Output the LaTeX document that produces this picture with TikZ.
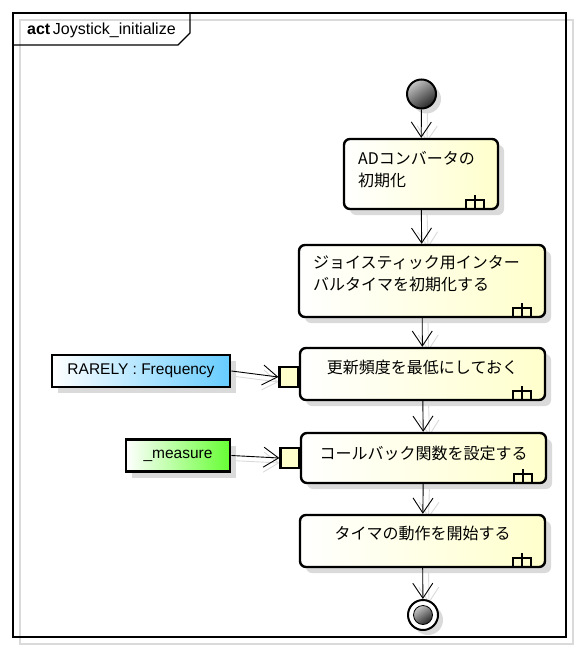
\documentclass[tikz,border=0pt]{standalone}
\usepackage{fontspec}
\setmainfont{Liberation Sans}
\newfontfamily\jpfont{Noto Sans CJK JP}
\usetikzlibrary{arrows.meta,shadows,backgrounds,positioning}

\definecolor{actyellow}{RGB}{255,255,204}
\definecolor{objblue}{RGB}{102,204,255}
\definecolor{objgreen}{RGB}{102,255,51}
\definecolor{shadowgray}{RGB}{218,218,218}

\tikzset{
  boxshadow/.style={drop shadow={shadow xshift=6pt,shadow yshift=-6pt,fill=shadowgray,opacity=1}},
  action/.style={draw,line width=2.4pt,rounded corners=6pt,left color=white,right color=actyellow,
    inner sep=0pt,boxshadow},
  acttext/.style={font=\jpfont\fontsize{16}{22}\selectfont,align=left,inner sep=0pt},
  objnode/.style={draw,line width=2.8pt,minimum height=32pt,inner sep=0pt,left color=white,
    font=\fontsize{15.5}{18}\selectfont,boxshadow},
  pinbox/.style={draw,line width=2.4pt,fill=actyellow,minimum width=19pt,minimum height=20pt,inner sep=0pt},
  flow/.style={line width=0.9pt,-{Straight Barb[length=15pt,width=20pt,line width=0.9pt]}},
  flowshadow/.style={flow,shadowgray},
  rakeicon/.pic={\draw[line width=2.3pt] (-9,8) -- (-9,0) -- (9,0) -- (9,8) (0,8) -- (0,-5);}
}

\begin{document}
\begin{tikzpicture}[x=1pt,y=-1pt]
\useasboundingbox (0,0) rectangle (580,650);

% frame
\draw[line width=1.3pt] (13,13) rectangle (566,637);
\draw[line width=1.3pt] (13,45) -- (178,45) -- (190,33) -- (190,13);
\node[anchor=west,inner sep=0pt,font=\fontsize{16}{18}\selectfont] (title) at (27,30)
  {\textbf{act}\,Joystick\_initialize};

% start and end
\node[circle,draw,line width=2pt,minimum size=29pt,inner sep=0pt,
  top color=gray!45,bottom color=black!85,shading angle=35,
  drop shadow={shadow xshift=5pt,shadow yshift=-5pt,fill=shadowgray,opacity=1}] (init) at (421.5,94) {};
\node[circle,draw,line width=2pt,minimum size=30pt,inner sep=0pt,fill=white,
  drop shadow={shadow xshift=5pt,shadow yshift=-5pt,fill=shadowgray,opacity=1}] (final) at (423,615) {};
\node[circle,draw,line width=0.8pt,minimum size=19pt,inner sep=0pt,
  top color=gray!45,bottom color=black!85,shading angle=35] (finaldot) at (final.center) {};

% actions
\node[action,minimum width=154pt,minimum height=70pt] (a1) at (421,174) {};
\node[action,minimum width=246pt,minimum height=72pt] (a2) at (422,281) {};
\node[action,minimum width=245pt,minimum height=52pt] (a3) at (422.5,374) {};
\node[action,minimum width=245pt,minimum height=50pt] (a4) at (423.5,458) {};
\node[action,minimum width=245pt,minimum height=52pt] (a5) at (422.5,541) {};

\node[acttext,anchor=west] (t1) at (358,170) {ADコンバータの\\初期化};
\node[acttext,anchor=west] (t2) at (313,274) {ジョイスティック用インター\\バルタイマを初期化する};
\node[acttext] (t3) at ([yshift=7pt]a3.center) {更新頻度を最低にしておく};
\node[acttext] (t4) at ([yshift=5pt]a4.center) {コールバック関数を設定する};
\node[acttext] (t5) at ([yshift=8pt]a5.center) {タイマの動作を開始する};

\foreach \n in {a1,a2,a3,a4,a5}
  \pic at ([xshift=-24pt,yshift=10pt]\n.south east) {rakeicon};

% pins and objects
\node[pinbox,left=-1pt of a3,yshift=-3pt] (p1) {};
\node[pinbox,left=-1pt of a4] (p2) {};
\node[objnode,right color=objblue,minimum width=178pt] (freq) at (141,371) {RARELY : Frequency};
\node[objnode,right color=objgreen,minimum width=104pt] (meas) at (178,455.5) {\_measure};

% shadows of the flows
\begin{scope}[on background layer]
\draw[shadowgray,line width=1.5pt] (20,20) rectangle (573,644);
\draw[flowshadow] ([xshift=6pt]init.south) -- ([xshift=6pt,yshift=-4pt]a1.north);
\draw[flowshadow] ([xshift=6pt]a1.south) -- ([xshift=6pt,yshift=-4pt]a2.north);
\draw[flowshadow] ([xshift=6pt]a2.south) -- ([xshift=6pt,yshift=-4pt]a3.north);
\draw[flowshadow] ([xshift=6pt]a3.south) -- ([xshift=6pt,yshift=-4pt]a4.north);
\draw[flowshadow] ([xshift=6pt]a4.south) -- ([xshift=6pt,yshift=-4pt]a5.north);
\draw[flowshadow] ([xshift=6pt]a5.south) -- ([xshift=6pt,yshift=-4pt]final.north);
\draw[flowshadow] ([yshift=-5pt]freq.east) -- ([yshift=-5pt]p1.west);
\draw[flowshadow] ([yshift=-5pt]meas.east) -- ([yshift=-5pt]p2.west);
\end{scope}

% flows
\draw[flow] (init) -- (a1);
\draw[flow] (a1) -- (a2);
\draw[flow] (a2) -- (a3);
\draw[flow] (a3) -- (a4);
\draw[flow] (a4) -- (a5);
\draw[flow] (a5) -- (final);
\draw[flow] (freq.east) -- (p1.west);
\draw[flow] (meas.east) -- (p2.west);
\end{tikzpicture}
\end{document}
